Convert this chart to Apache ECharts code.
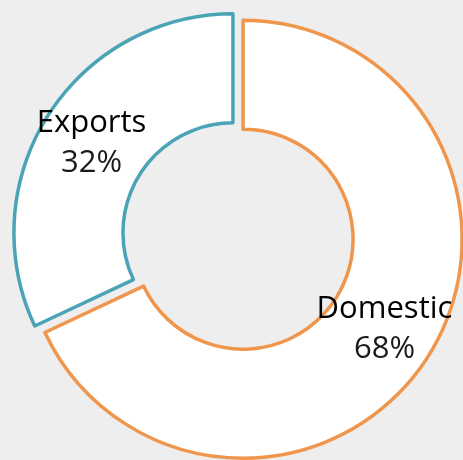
<!DOCTYPE html>
<html><head><meta charset="utf-8">
<script src="https://cdn.jsdelivr.net/npm/echarts@6/dist/echarts.min.js"></script>
<style>html,body{margin:0;padding:0;background:#eeeeee}#c{width:463px;height:460px}</style>
</head><body><div id="c"></div>
<script>
const categories = ['Domestic', 'Exports'];
const values = [68, 32];
const borderColors = ['#f0964c', '#4ba4b6'];

const chart = echarts.init(document.getElementById('c'), null, {renderer: 'canvas'});
chart.setOption({
  backgroundColor: '#eeeeee',
  animation: false,
  series: [{
    type: 'pie',
    center: [238, 236],
    radius: [110, 219],
    startAngle: 90,
    clockwise: true,
    selectedMode: 'multiple',
    selectedOffset: 6,
    label: {
      show: true,
      position: 'inside',
      formatter: '{n|{b}}\n{p|{d}%}',
      rich: {
        n: {fontFamily: 'Open Sans', fontSize: 31, color: '#000', lineHeight: 40},
        p: {fontFamily: 'Open Sans', fontSize: 31, color: '#1a1a1a', lineHeight: 40}
      }
    },
    labelLine: {show: false},
    emphasis: {disabled: true},
    data: categories.map((c, i) => ({
      name: c, value: values[i], selected: true,
      itemStyle: {color: '#ffffff', borderColor: borderColors[i], borderWidth: 3.5}
    }))
  }]
});
</script></body></html>
